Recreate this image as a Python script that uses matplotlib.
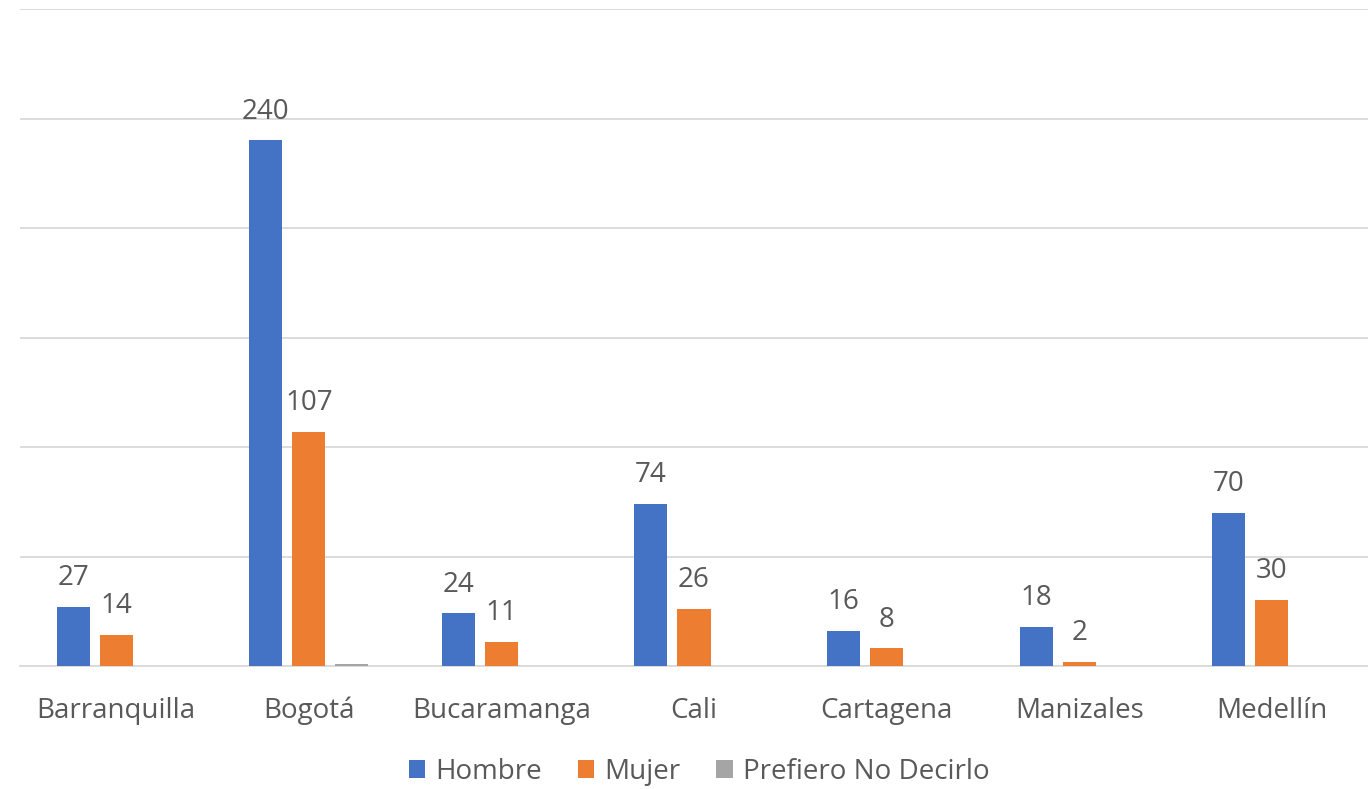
import matplotlib
matplotlib.use("Agg")
import matplotlib.pyplot as plt
import numpy as np

categories = ["Barranquilla", "Bogotá", "Bucaramanga", "Cali", "Cartagena", "Manizales", "Medellín"]
hombre = [27, 240, 24, 74, 16, 18, 70]
mujer = [14, 107, 11, 26, 8, 2, 30]
prefiero = [0, 1, 0, 0, 0, 0, 0]
series_names = ["Hombre", "Mujer", "Prefiero No Decirlo"]
colors = ["#4472C4", "#ED7D31", "#A5A5A5"]

plt.rcParams['font.family'] = ['Open Sans', 'DejaVu Sans']
txt = "#595959"

fig = plt.figure(figsize=(13.68, 7.89), dpi=100)
ax = fig.add_axes([20/1368, 1-666/789, 1348/1368, (666-9)/789])

x = np.arange(len(categories))
w = 33/192.5
step = 43/192.5
for i, (vals, name, c) in enumerate(zip([hombre, mujer, prefiero], series_names, colors)):
    pos = x + (i-1)*step
    bars = ax.bar(pos, vals, width=w, color=c, label=name, zorder=3)
    if i < 2:
        for p, v in zip(pos, vals):
            ax.text(p, v + 6.8, str(v), ha='center', va='bottom', fontsize=20, color=txt)

ax.set_xlim(-0.5, len(categories)-0.5)
ax.set_ylim(0, 300)
ax.set_yticks(np.arange(0, 301, 50))
ax.yaxis.grid(True, color="#D9D9D9", linewidth=1.3, zorder=0)
ax.tick_params(axis='y', left=False, labelleft=False)
ax.set_xticks(x)
ax.set_xticklabels(categories, fontsize=20, color=txt)
ax.tick_params(axis='x', length=0, pad=22)
for s in ['top', 'right', 'left']:
    ax.spines[s].set_visible(False)
ax.spines['bottom'].set_color("#D9D9D9")
ax.spines['bottom'].set_linewidth(1.3)

fig.legend(loc='center', bbox_to_anchor=(0.5 + 15/1368, 1-772/789), ncol=3, frameon=False,
           fontsize=20, labelcolor=txt, handlelength=0.6, handleheight=0.6,
           columnspacing=1.3, handletextpad=0.35)

fig.savefig("out.png", dpi=100)
